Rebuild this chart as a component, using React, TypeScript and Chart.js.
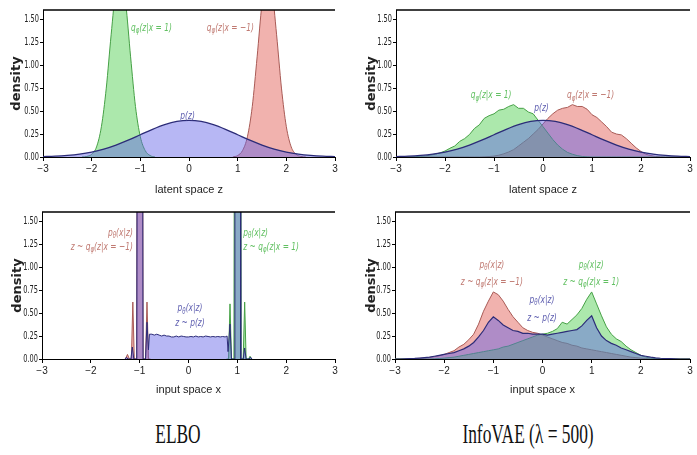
import React, { useEffect, useRef } from 'react';
import { Chart, registerables } from 'chart.js';

Chart.register(...registerables);

// ---------- tick labels ----------
const X_TICKS = [-3, -2, -1, 0, 1, 2, 3];
const Y_TICKS = [0, 0.25, 0.5, 0.75, 1.0, 1.25, 1.5];

// ---------- prior p(z) ----------
const PZ_X = [-3, -2.75, -2.5, -2.25, -2, -1.75, -1.5, -1.25, -1, -0.75, -0.5, -0.25, 0, 0.25, 0.5, 0.75, 1, 1.25, 1.5, 1.75, 2, 2.25, 2.5, 2.75, 3];
const PZ_Y = [0.004, 0.009, 0.018, 0.032, 0.054, 0.086, 0.13, 0.183, 0.242, 0.301, 0.352, 0.387, 0.399, 0.387, 0.352, 0.301, 0.242, 0.183, 0.13, 0.086, 0.054, 0.032, 0.018, 0.009, 0.004];

// ---------- ELBO, latent space ----------
const ELBO_LAT_QPOS_X = [-2.2, -2.1, -2.0, -1.9, -1.8, -1.7, -1.6, -1.5, -1.4, -1.3, -1.2, -1.1, -1.0, -0.9, -0.8, -0.7];
const ELBO_LAT_QPOS_Y = [0, 0.006, 0.03, 0.11, 0.33, 0.75, 1.33, 1.84, 1.99, 1.67, 1.09, 0.55, 0.22, 0.07, 0.016, 0];
const ELBO_LAT_QNEG_X = [0.9, 1.0, 1.1, 1.2, 1.3, 1.4, 1.5, 1.6, 1.7, 1.8, 1.9, 2.0, 2.1, 2.2, 2.3, 2.4];
const ELBO_LAT_QNEG_Y = [0, 0.016, 0.07, 0.22, 0.55, 1.09, 1.67, 1.99, 1.84, 1.33, 0.75, 0.33, 0.11, 0.03, 0.006, 0];

// ---------- ELBO, input space ----------
const ELBO_IN_P_X = [-1.30, -1.27, -1.24, -1.18, -1.15, -1.12, -1.06, -1.05, -0.94, -0.93,
  -0.88, -0.85, -0.82, -0.80, -0.75, -0.70, -0.65, -0.60, -0.55, -0.50,
  -0.45, -0.40, -0.35, -0.30, -0.25, -0.20, -0.15, -0.10, -0.05, 0.00,
  0.05, 0.10, 0.15, 0.20, 0.25, 0.30, 0.35, 0.40, 0.45, 0.50,
  0.55, 0.60, 0.65, 0.70, 0.75, 0.79, 0.81, 0.85, 0.88, 0.94,
  0.95, 1.06, 1.07, 1.12, 1.15, 1.18, 1.24, 1.27, 1.30];
const ELBO_IN_P_Y = [0, 0.02, 0, 0, 0.13, 0, 0, 3.0, 3.0, 0,
  0, 0.40, 0.10, 0.27, 0.27, 0.26, 0.27, 0.26, 0.25, 0.26,
  0.25, 0.25, 0.24, 0.24, 0.25, 0.24, 0.25, 0.245, 0.24, 0.24,
  0.245, 0.24, 0.25, 0.24, 0.245, 0.24, 0.25, 0.245, 0.24, 0.245,
  0.24, 0.245, 0.24, 0.245, 0.24, 0.25, 0.08, 0.38, 0, 0,
  3.0, 3.0, 0, 0, 0.12, 0, 0, 0.02, 0];
const ELBO_IN_QNEG_X = [-1.29, -1.25, -1.21, -1.17, -1.14, -1.11, -1.06, -1.05, -0.94, -0.93, -0.88, -0.85, -0.82, -0.78];
const ELBO_IN_QNEG_Y = [0, 0.05, 0, 0, 0.62, 0, 0, 3.0, 3.0, 0, 0, 0.62, 0, 0];
const ELBO_IN_QPOS_X = [0.78, 0.82, 0.85, 0.88, 0.93, 0.94, 1.06, 1.07, 1.12, 1.15, 1.18, 1.23, 1.26, 1.29];
const ELBO_IN_QPOS_Y = [0, 0, 0.60, 0, 0, 3.0, 3.0, 0, 0, 0.62, 0, 0, 0.03, 0];

// ---------- InfoVAE grid ----------
const GRID_X = [-3.0, -2.9, -2.8, -2.7, -2.6, -2.5, -2.4, -2.3, -2.2, -2.1,
  -2.0, -1.9, -1.8, -1.7, -1.6, -1.5, -1.4, -1.3, -1.2, -1.1,
  -1.0, -0.9, -0.8, -0.7, -0.6, -0.5, -0.4, -0.3, -0.2, -0.1,
  0.0, 0.1, 0.2, 0.3, 0.4, 0.5, 0.6, 0.7, 0.8, 0.9,
  1.0, 1.1, 1.2, 1.3, 1.4, 1.5, 1.6, 1.7, 1.8, 1.9,
  2.0, 2.1, 2.2, 2.3, 2.4, 2.5, 2.6, 2.7, 2.8, 2.9,
  3.0];

// ---------- InfoVAE, latent space ----------
const INFO_LAT_QPOS = [0, 0, 0, 0.002, 0.004, 0.007, 0.012, 0.02, 0.03, 0.045,
  0.065, 0.095, 0.12, 0.17, 0.20, 0.245, 0.31, 0.35, 0.42, 0.45,
  0.47, 0.51, 0.52, 0.55, 0.57, 0.53, 0.53, 0.49, 0.47, 0.40,
  0.33, 0.26, 0.19, 0.13, 0.085, 0.05, 0.03, 0.015, 0.006, 0.002,
  0, 0, 0, 0, 0, 0, 0, 0, 0, 0,
  0, 0, 0, 0, 0, 0, 0, 0, 0, 0,
  0];
const INFO_LAT_QNEG = [0, 0, 0, 0, 0, 0, 0, 0, 0, 0,
  0, 0, 0, 0, 0, 0, 0, 0, 0.002, 0.005,
  0.01, 0.02, 0.035, 0.055, 0.08, 0.12, 0.16, 0.20, 0.25, 0.30,
  0.36, 0.42, 0.47, 0.51, 0.53, 0.54, 0.57, 0.55, 0.55, 0.52,
  0.46, 0.43, 0.38, 0.33, 0.27, 0.25, 0.24, 0.20, 0.15, 0.10,
  0.06, 0.03, 0.015, 0.006, 0.002, 0, 0, 0, 0, 0,
  0];

// ---------- InfoVAE, input space ----------
const INFO_IN_QNEG = [0, 0, 0, 0.002, 0.004, 0.007, 0.01, 0.015, 0.025, 0.035,
  0.05, 0.07, 0.09, 0.13, 0.16, 0.21, 0.27, 0.38, 0.52, 0.63,
  0.73, 0.70, 0.63, 0.54, 0.46, 0.40, 0.34, 0.31, 0.29, 0.28,
  0.26, 0.24, 0.22, 0.20, 0.18, 0.17, 0.15, 0.14, 0.12, 0.11,
  0.10, 0.09, 0.08, 0.07, 0.06, 0.05, 0.04, 0.03, 0.02, 0.015,
  0.01, 0.005, 0.002, 0, 0, 0, 0, 0, 0, 0,
  0];
const INFO_IN_P = [0, 0, 0.002, 0.004, 0.006, 0.01, 0.015, 0.02, 0.03, 0.04,
  0.05, 0.06, 0.07, 0.09, 0.11, 0.14, 0.18, 0.24, 0.31, 0.40,
  0.46, 0.42, 0.37, 0.34, 0.31, 0.30, 0.28, 0.28, 0.27, 0.27,
  0.27, 0.26, 0.27, 0.28, 0.29, 0.30, 0.31, 0.32, 0.36, 0.42,
  0.47, 0.34, 0.25, 0.20, 0.17, 0.15, 0.12, 0.10, 0.08, 0.06,
  0.04, 0.03, 0.02, 0.013, 0.008, 0.005, 0.003, 0.001, 0, 0,
  0];
const INFO_IN_QPOS = [0, 0, 0, 0, 0, 0, 0, 0, 0.002, 0.005,
  0.01, 0.015, 0.02, 0.03, 0.04, 0.05, 0.06, 0.07, 0.08, 0.09,
  0.10, 0.11, 0.13, 0.14, 0.16, 0.18, 0.20, 0.22, 0.24, 0.26,
  0.27, 0.28, 0.30, 0.33, 0.40, 0.38, 0.43, 0.48, 0.55, 0.65,
  0.73, 0.60, 0.47, 0.35, 0.27, 0.22, 0.19, 0.14, 0.10, 0.07,
  0.04, 0.02, 0.01, 0.005, 0.002, 0, 0, 0, 0, 0,
  0];

// ---------- labels ----------
const LBL_QPOS = 'q_{φ}(z|x = 1)';
const LBL_QNEG = 'q_{φ}(z|x = −1)';
const LBL_PZ = 'p(z)';
const LBL_PX = 'p_{θ}(x|z)';
const LBL_ZQNEG = 'z ~ q_{φ}(z|x = −1)';
const LBL_ZQPOS = 'z ~ q_{φ}(z|x = 1)';
const LBL_ZP = 'z ~ p(z)';

// ---------- styles ----------
const GREEN_FILL = 'rgba(70, 205, 70, 0.45)';
const GREEN_LINE = '#45a045';
const RED_FILL = 'rgba(225, 85, 75, 0.45)';
const RED_LINE = '#a85a55';
const BLUE_FILL = 'rgba(95, 95, 230, 0.45)';
const BLUE_LINE = '#2c2c78';
const GREEN_TXT = '#62c062';
const RED_TXT = '#c07a72';
const BLUE_TXT = '#5f5fb0';

const TICK_FONT = { family: '"DejaVu Sans", sans-serif', size: 10 };
const AXIS_FONT = { family: '"Liberation Sans", sans-serif', size: 11 };

type Series = { xs: number[]; ys: number[]; fill: string; line: string; width: number; smooth: boolean };
type Ann = { x: number; y: number; text: string; color: string; align: 'left' | 'right' | 'center' };
type Panel = {
  left: number; top: number; width: number; height: number;
  padTop: number; padRight: number; yWidth: number; xHeight: number; yTitlePad: number;
  xTitle: string; series: Series[]; anns: Ann[];
};

function drawRich(ctx: CanvasRenderingContext2D, text: string, x: number, y: number, color: string, align: string) {
  const parts = text.split(/_\{([^}]*)\}/);
  const MAIN = 'italic 11px "DejaVu Sans"';
  const SUB = 'italic 8px "DejaVu Sans"';
  const SX = 0.68;
  let w = 0;
  parts.forEach((t, i) => { ctx.font = i % 2 ? SUB : MAIN; w += ctx.measureText(t).width; });
  ctx.save();
  ctx.translate(x, y);
  ctx.scale(SX, 1);
  let cx = align === 'left' ? 0 : align === 'right' ? -w : -w / 2;
  ctx.fillStyle = color;
  ctx.textBaseline = 'middle';
  ctx.textAlign = 'left';
  parts.forEach((t, i) => {
    ctx.font = i % 2 ? SUB : MAIN;
    ctx.fillText(t, cx, i % 2 ? 3 : 0);
    cx += ctx.measureText(t).width;
  });
  ctx.restore();
}

const annPlugin = {
  id: 'ann',
  afterDatasetsDraw(chart: any, _args: any, opts: any) {
    const items: Ann[] = (opts && opts.items) || [];
    const xs = chart.scales.x, ys = chart.scales.y;
    for (const a of items) {
      drawRich(chart.ctx, a.text, xs.getPixelForValue(a.x), ys.getPixelForValue(a.y), a.color, a.align);
    }
  },
};

// condensed y tick labels, placed with the library's own y scale
const yLabelPlugin = {
  id: 'yLabels',
  afterDraw(chart: any) {
    const { ctx, chartArea: a } = chart;
    const ys = chart.scales.y;
    ctx.save();
    ctx.fillStyle = '#222';
    ctx.font = '11px "DejaVu Sans"';
    ctx.textAlign = 'right';
    ctx.textBaseline = 'middle';
    for (const t of ys.ticks) {
      const py = ys.getPixelForValue(t.value);
      ctx.save();
      ctx.translate(a.left - 4, py);
      ctx.scale(0.6, 1);
      ctx.fillText(Number(t.value).toFixed(2), 0, 0);
      ctx.restore();
    }
    ctx.restore();
  },
};

const topBorderPlugin = {
  id: 'topBorder',
  afterDraw(chart: any) {
    const { ctx, chartArea: a } = chart;
    ctx.save();
    ctx.strokeStyle = '#000';
    ctx.lineWidth = 1.6;
    ctx.beginPath();
    ctx.moveTo(a.left, a.top);
    ctx.lineTo(a.right, a.top);
    ctx.stroke();
    ctx.restore();
  },
};

const fmtX = (v: number) => (v < 0 ? '\u2212' + Math.abs(v) : String(v));

function makeChart(canvas: HTMLCanvasElement, p: Panel) {
  return new Chart(canvas, {
    type: 'line',
    data: {
      datasets: p.series.map((s) => ({
        data: s.xs.map((x, i) => ({ x, y: s.ys[i] })),
        borderColor: s.line,
        backgroundColor: s.fill,
        borderWidth: s.width,
        fill: 'origin',
        pointRadius: 0,
        tension: 0,
        cubicInterpolationMode: s.smooth ? 'monotone' : 'default',
      })),
    } as any,
    options: {
      animation: false,
      responsive: false,
      maintainAspectRatio: false,
      events: [],
      layout: { padding: { top: p.padTop, right: p.padRight, left: 0, bottom: 0 } },
      plugins: {
        legend: { display: false },
        tooltip: { enabled: false },
        ann: { items: p.anns },
      } as any,
      scales: {
        x: {
          type: 'linear',
          min: -3,
          max: 3,
          afterBuildTicks: (s: any) => { s.ticks = X_TICKS.map((v) => ({ value: v })); },
          afterFit: (s: any) => { s.height = p.xHeight; s.paddingLeft = 0; s.paddingRight = 0; },
          grid: { display: true, drawOnChartArea: false, drawTicks: true, tickLength: 4, color: '#000' },
          border: { display: true, color: '#000', width: 1 },
          ticks: { color: '#222', font: { family: '"Liberation Sans", sans-serif', size: 10 }, padding: 2, maxRotation: 0, autoSkip: false, callback: (v: any) => fmtX(Number(v)) },
          title: { display: true, text: p.xTitle, color: '#222', font: AXIS_FONT, padding: { top: 0, bottom: 3 } },
        },
        y: {
          min: 0,
          max: 1.6,
          afterBuildTicks: (s: any) => { s.ticks = Y_TICKS.map((v) => ({ value: v })); },
          afterFit: (s: any) => { s.width = p.yWidth; s.paddingTop = 0; s.paddingBottom = 0; },
          grid: { display: true, drawOnChartArea: false, drawTicks: true, tickLength: 3, color: '#000' },
          border: { display: true, color: '#000', width: 1 },
          ticks: { display: false, font: TICK_FONT },
          title: { display: true, text: 'density', color: '#222', font: { family: '"DejaVu Sans"', size: 13, weight: 'bold' }, padding: { top: p.yTitlePad, bottom: 0 } },
        },
      },
    } as any,
    plugins: [annPlugin, yLabelPlugin, topBorderPlugin],
  });
}

const PANELS: Panel[] = [
  {
    left: 0, top: 0, width: 348, height: 200, padTop: 10, padRight: 13, yWidth: 43, xHeight: 43, yTitlePad: 9,
    xTitle: 'latent space z',
    series: [
      { xs: PZ_X, ys: PZ_Y, fill: BLUE_FILL, line: BLUE_LINE, width: 1.3, smooth: true },
      { xs: ELBO_LAT_QPOS_X, ys: ELBO_LAT_QPOS_Y, fill: GREEN_FILL, line: GREEN_LINE, width: 1, smooth: true },
      { xs: ELBO_LAT_QNEG_X, ys: ELBO_LAT_QNEG_Y, fill: RED_FILL, line: RED_LINE, width: 1, smooth: true },
    ],
    anns: [
      { x: -0.77, y: 1.4, text: LBL_QPOS, color: GREEN_TXT, align: 'center' },
      { x: 0.85, y: 1.4, text: LBL_QNEG, color: RED_TXT, align: 'center' },
      { x: -0.03, y: 0.44, text: LBL_PZ, color: BLUE_TXT, align: 'center' },
    ],
  },
  {
    left: 349, top: 0, width: 348, height: 200, padTop: 10, padRight: 7, yWidth: 47, xHeight: 43, yTitlePad: 15,
    xTitle: 'latent space z',
    series: [
      { xs: PZ_X, ys: PZ_Y, fill: BLUE_FILL, line: BLUE_LINE, width: 1.3, smooth: true },
      { xs: GRID_X, ys: INFO_LAT_QPOS, fill: GREEN_FILL, line: GREEN_LINE, width: 1, smooth: false },
      { xs: GRID_X, ys: INFO_LAT_QNEG, fill: RED_FILL, line: RED_LINE, width: 1, smooth: false },
    ],
    anns: [
      { x: -1.06, y: 0.67, text: LBL_QPOS, color: GREEN_TXT, align: 'center' },
      { x: -0.03, y: 0.53, text: LBL_PZ, color: BLUE_TXT, align: 'center' },
      { x: 0.97, y: 0.67, text: LBL_QNEG, color: RED_TXT, align: 'center' },
    ],
  },
  {
    left: 0, top: 200, width: 348, height: 200, padTop: 12, padRight: 13, yWidth: 42, xHeight: 41, yTitlePad: 10,
    xTitle: 'input space x',
    series: [
      { xs: ELBO_IN_P_X, ys: ELBO_IN_P_Y, fill: BLUE_FILL, line: BLUE_LINE, width: 1, smooth: false },
      { xs: ELBO_IN_QPOS_X, ys: ELBO_IN_QPOS_Y, fill: GREEN_FILL, line: GREEN_LINE, width: 1, smooth: false },
      { xs: ELBO_IN_QNEG_X, ys: ELBO_IN_QNEG_Y, fill: RED_FILL, line: RED_LINE, width: 1, smooth: false },
    ],
    anns: [
      { x: -1.14, y: 1.37, text: LBL_PX, color: RED_TXT, align: 'right' },
      { x: -1.14, y: 1.22, text: LBL_ZQNEG, color: RED_TXT, align: 'right' },
      { x: 1.12, y: 1.37, text: LBL_PX, color: GREEN_TXT, align: 'left' },
      { x: 1.12, y: 1.22, text: LBL_ZQPOS, color: GREEN_TXT, align: 'left' },
      { x: 0.03, y: 0.55, text: LBL_PX, color: BLUE_TXT, align: 'center' },
      { x: 0.03, y: 0.39, text: LBL_ZP, color: BLUE_TXT, align: 'center' },
    ],
  },
  {
    left: 349, top: 200, width: 348, height: 200, padTop: 12, padRight: 7, yWidth: 46, xHeight: 41, yTitlePad: 15,
    xTitle: 'input space x',
    series: [
      { xs: GRID_X, ys: INFO_IN_P, fill: BLUE_FILL, line: BLUE_LINE, width: 1.2, smooth: false },
      { xs: GRID_X, ys: INFO_IN_QPOS, fill: GREEN_FILL, line: GREEN_LINE, width: 1, smooth: false },
      { xs: GRID_X, ys: INFO_IN_QNEG, fill: RED_FILL, line: RED_LINE, width: 1, smooth: false },
    ],
    anns: [
      { x: -1.03, y: 1.02, text: LBL_PX, color: RED_TXT, align: 'center' },
      { x: -1.03, y: 0.84, text: LBL_ZQNEG, color: RED_TXT, align: 'center' },
      { x: 0.99, y: 1.02, text: LBL_PX, color: GREEN_TXT, align: 'center' },
      { x: 0.99, y: 0.84, text: LBL_ZQPOS, color: GREEN_TXT, align: 'center' },
      { x: -0.01, y: 0.64, text: LBL_PX, color: BLUE_TXT, align: 'center' },
      { x: -0.01, y: 0.45, text: LBL_ZP, color: BLUE_TXT, align: 'center' },
    ],
  },
];

const TITLES = [
  { text: 'ELBO', cx: 178 },
  { text: 'InfoVAE (λ = 500)', cx: 528 },
];

function PanelChart({ p }: { p: Panel }) {
  const ref = useRef<HTMLCanvasElement | null>(null);
  useEffect(() => {
    if (!ref.current) return;
    const chart = makeChart(ref.current, p);
    return () => chart.destroy();
  }, [p]);
  return (
    <canvas
      ref={ref}
      width={p.width}
      height={p.height}
      style={{ position: 'absolute', left: p.left, top: p.top, width: p.width, height: p.height }}
    />
  );
}

export default function App() {
  return (
    <div style={{ position: 'fixed', left: 0, top: 0, width: 697, height: 455, background: '#fff', overflow: 'hidden' }}>
      {PANELS.map((p, i) => (
        <PanelChart key={i} p={p} />
      ))}
      {TITLES.map((t, i) => (
        <div
          key={i}
          style={{
            position: 'absolute',
            left: t.cx,
            top: 420,
            transform: 'translateX(-50%) scaleX(0.62)',
            fontFamily: '"Liberation Serif", serif',
            fontSize: 28,
            lineHeight: '28px',
            whiteSpace: 'nowrap',
            color: '#111',
          }}
        >
          {t.text}
        </div>
      ))}
    </div>
  );
}
